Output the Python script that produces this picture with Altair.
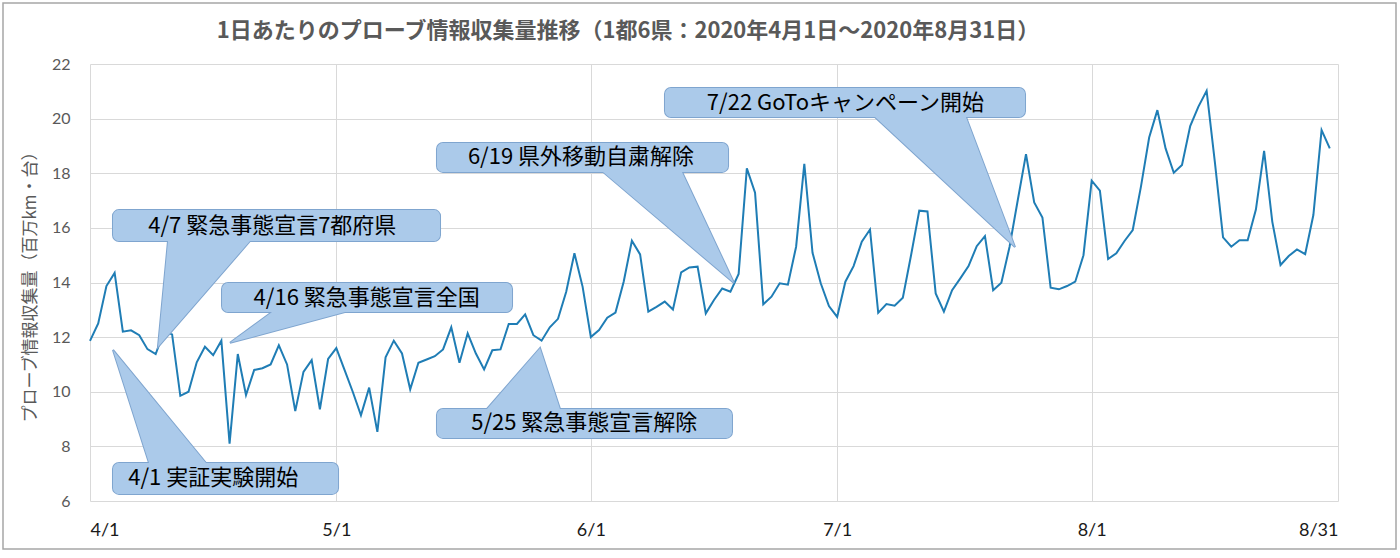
import altair as alt
import pandas as pd

# ---------------- data ----------------
apr = [11.86, 12.5, 13.87, 14.35, 12.2, 12.25, 12.07, 11.56, 11.38, 12.2,
       12.1, 9.85, 10.0, 11.08, 11.65, 11.34, 11.87, 8.1, 11.38, 9.88,
       10.8, 10.86, 11.0, 11.7, 11.0, 9.29, 10.73, 11.16, 9.36, 11.2]
may = [11.6, 10.8, 10.0, 9.14, 10.15, 8.53, 11.26, 11.87, 11.4, 10.09,
       11.06, 11.18, 11.3, 11.55, 12.36, 11.06, 12.14, 11.4, 10.82, 11.52,
       11.55, 12.48, 12.48, 12.83, 12.07, 11.87, 12.36, 12.67, 13.66, 15.07,
       13.84]
jun = [12.0, 12.26, 12.71, 12.9, 14.03, 15.53, 15.03, 12.93, 13.11, 13.3,
       13.01, 14.37, 14.55, 14.58, 12.87, 13.36, 13.78, 13.66, 14.31, 18.18,
       17.29, 13.2, 13.48, 13.97, 13.92, 15.31, 18.34, 15.09, 13.97, 13.14]
jul = [12.74, 14.03, 14.6, 15.49, 15.94, 12.89, 13.21, 13.15, 13.44, 15.0,
       16.63, 16.6, 13.6, 12.93, 13.72, 14.15, 14.6, 15.33, 15.7, 13.72,
       13.99, 15.31, 17.02, 18.7, 16.93, 16.38, 13.81, 13.75, 13.87, 14.03,
       15.0]
aug = [17.73, 17.36, 14.86, 15.07, 15.52, 15.92, 17.51, 19.31, 20.31, 18.91,
       18.02, 18.3, 19.73, 20.44, 21.02, 18.42, 15.65, 15.31, 15.55, 15.55,
       16.67, 18.82, 16.22, 14.64, 14.97, 15.21, 15.04, 16.47, 19.58, 18.91]

values = apr + may + jun + jul + aug
start = pd.Timestamp("2020-04-01")
dates = pd.date_range(start, periods=len(values), freq="D")

title_text = "1日あたりのプローブ情報収集量推移（1都6県：2020年4月1日～2020年8月31日）"
y_title = "プローブ情報収集量（百万km・台）"
tick_dates = [(2020, 4, 1), (2020, 5, 1), (2020, 6, 1), (2020, 7, 1), (2020, 8, 1), (2020, 8, 31)]
y_ticks = [6, 8, 10, 12, 14, 16, 18, 20, 22]

# callouts: label, box extent (days from 4/1, value), tail tip, tail opening on box edge
ann_labels = ["4/1 実証実験開始", "4/7 緊急事態宣言7都府県", "4/16 緊急事態宣言全国",
              "5/25 緊急事態宣言解除", "6/19 県外移動自粛解除", "7/22 GoToキャンペーン開始"]
box_d0 = [2.8, 2.8, 16.08, 42.26, 42.26, 70.03]
box_d1 = [30.21, 42.63, 51.40, 78.19, 77.71, 113.88]
box_v0 = [6.26, 15.52, 12.92, 8.31, 18.05, 20.06]
box_v1 = [7.39, 16.65, 13.98, 9.37, 19.11, 21.12]
text_d = [15.0, 22.2, 33.7, 60.2, 59.8, 92.0]
tip_d = [2.80, 8.28, 17.05, 54.81, 78.44, 112.66]
tip_v = [11.53, 11.64, 11.79, 11.60, 13.98, 15.30]
open_d0 = [7.19, 9.5, 22.17, 48.35, 62.48, 95.61]
open_d1 = [14.13, 19.49, 31.06, 57.24, 72.10, 106.69]

# ---------------- tables ----------------
def day(d):
    return start + pd.to_timedelta(d, unit="D")

df = pd.DataFrame({"date": dates, "value": values})

boxes = pd.DataFrame({
    "x0": [day(d) for d in box_d0], "x1": [day(d) for d in box_d1],
    "v0": box_v0, "v1": box_v1, "label": ann_labels,
    "xc": [day(d) for d in text_d],
    "vc": [(a + b) / 2 for a, b in zip(box_v0, box_v1)],
})

tail_rows = []
for i in range(len(ann_labels)):
    edge_v = box_v0[i] if tip_v[i] < box_v0[i] else box_v1[i]
    mid_v = (box_v0[i] + box_v1[i]) / 2
    tail_rows.append({"id": i, "v": tip_v[i], "xa": day(tip_d[i]), "xb": day(tip_d[i])})
    tail_rows.append({"id": i, "v": edge_v, "xa": day(open_d0[i]), "xb": day(open_d1[i])})
    tail_rows.append({"id": i, "v": mid_v, "xa": day(open_d0[i]), "xb": day(open_d1[i])})
tails = pd.DataFrame(tail_rows)

# ---------------- chart ----------------
W, H = 1248, 437
LAT = "Lato, 'Noto Sans CJK JP', sans-serif"
JP = "'Noto Sans CJK JP', sans-serif"
FILL = "#abcaea"
EDGE = "#7fa5cf"

x_scale = alt.Scale(domain=[alt.DateTime(year=2020, month=4, date=1),
                            alt.DateTime(year=2020, month=8, date=31)])
y_scale = alt.Scale(domain=[6, 22], nice=False, zero=False)

x_axis = alt.Axis(
    values=[alt.DateTime(year=a, month=b, date=c) for a, b, c in tick_dates],
    format="%-m/%-d", title=None, grid=True, gridColor="#d9d9d9", domain=False,
    ticks=False, labelPadding=20, labelFontSize=18, labelColor="#1a1a1a",
    labelFont=LAT, labelFlush=True)
y_axis = alt.Axis(
    values=y_ticks, title=y_title, grid=True, gridColor="#d9d9d9", domain=False,
    ticks=False, labelPadding=20, labelFontSize=16, labelColor="#595959",
    labelFont=LAT, titleFont=JP, titleFontSize=17, titleFontWeight="normal",
    titleColor="#595959", titleAngle=270, titleAlign="center", titleBaseline="middle",
    titleX=-60, titleY=H / 2)

line = alt.Chart(df).mark_line(color="#1f7db5", strokeWidth=2).encode(
    x=alt.X("date:T", scale=x_scale, axis=x_axis),
    y=alt.Y("value:Q", scale=y_scale, axis=y_axis),
)

box_enc = dict(
    x=alt.X("x0:T", scale=x_scale), x2="x1:T",
    y=alt.Y("v0:Q", scale=y_scale), y2="v1:Q",
)
tail_enc = dict(
    y=alt.Y("v:Q", scale=y_scale, stack=None),
    x=alt.X("xa:T", scale=x_scale, stack=None), x2="xb:T",
    detail="id:N",
)

box_stroke = alt.Chart(boxes).mark_rect(
    fill=FILL, stroke=EDGE, strokeWidth=2, cornerRadius=6).encode(**box_enc)
tail_stroke = alt.Chart(tails).mark_area(
    orient="horizontal", fill=FILL, stroke=EDGE, strokeWidth=2,
    strokeJoin="miter", opacity=1).encode(**tail_enc)
box_fill = alt.Chart(boxes).mark_rect(fill=FILL, cornerRadius=6).encode(**box_enc)
tail_fill = alt.Chart(tails).mark_area(
    orient="horizontal", fill=FILL, opacity=1).encode(**tail_enc)
texts = alt.Chart(boxes).mark_text(
    font=JP, fontSize=22, color="#000000", align="center", baseline="middle").encode(
    x=alt.X("xc:T", scale=x_scale), y=alt.Y("vc:Q", scale=y_scale), text="label:N")

title_mark = alt.Chart(pd.DataFrame({"t": [title_text]})).mark_text(
    font=JP, fontSize=22, fontWeight="bold", color="#595959",
    align="center", baseline="middle").encode(
    x=alt.value(538), y=alt.value(-33), text="t:N")

frame = alt.Chart(pd.DataFrame({"k": [0]})).mark_rect(
    fill=None, stroke="#a6a6a6", strokeWidth=1.5).encode(
    x=alt.value(-87), x2=alt.value(1306), y=alt.value(-61), y2=alt.value(485))

chart = alt.layer(
    line, box_stroke, tail_stroke, box_fill, tail_fill, texts, title_mark, frame
).properties(
    width=W, height=H,
    padding={"left": 90, "top": 64, "right": 62, "bottom": 57},
    autosize=alt.AutoSizeParams(type="none"),
    background="white",
).configure_view(stroke=None)

chart.save("out.html", embed_options={"renderer": "svg", "actions": False})
